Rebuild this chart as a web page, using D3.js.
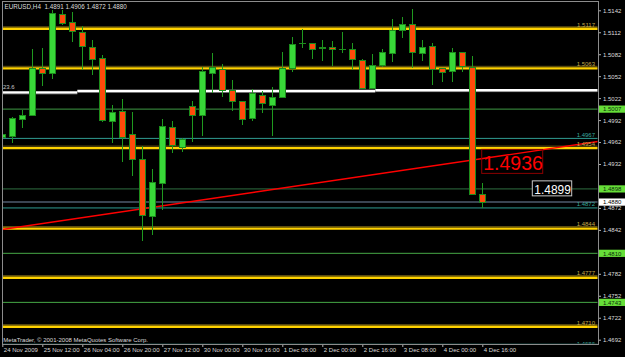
<!DOCTYPE html>
<html>
<head>
<meta charset="utf-8">
<script src="https://cdn.jsdelivr.net/npm/d3@7/dist/d3.min.js"></script>
<style>
  body { margin: 0; background: #000; }
  svg { display: block; font-family: "Liberation Sans", Arial, sans-serif; }
</style>
</head>
<body>
<div id="chart"></div>
<script>
// EURUSD H4 bars, 24 Nov 2009 20:00 .. 4 Dec 16:00
const opens  = [1.4968, 1.4969, 1.4993, 1.4998, 1.5063, 1.5056, 1.5136, 1.5126, 1.5111, 1.5091,
                1.5076, 1.4990, 1.5004, 1.4973, 1.4938, 1.4860, 1.4906, 1.4982, 1.4955, 1.5011,
                1.4998, 1.5056, 1.5061, 1.5033, 1.5017, 1.4994, 1.5026, 1.5012, 1.5023, 1.5063,
                1.5096, 1.5097, 1.5090, 1.5091, 1.5088, 1.5089, 1.5074, 1.5035, 1.5066, 1.5083,
                1.5114, 1.5123, 1.5083, 1.5092, 1.5063, 1.5058, 1.5085, 1.5064, 1.4891];
const highs  = [1.4975, 1.4996, 1.5006, 1.5089, 1.5090, 1.5142, 1.5142, 1.5139, 1.5121, 1.5101,
                1.5081, 1.5013, 1.5021, 1.5003, 1.4956, 1.4925, 1.4994, 1.4991, 1.4967, 1.5018,
                1.5065, 1.5084, 1.5068, 1.5047, 1.5018, 1.5034, 1.5032, 1.5037, 1.5085, 1.5105,
                1.5117, 1.5098, 1.5102, 1.5100, 1.5112, 1.5097, 1.5075, 1.5082, 1.5089, 1.5130,
                1.5133, 1.5144, 1.5101, 1.5098, 1.5063, 1.5091, 1.5085, 1.5079, 1.4906];
const lows   = [1.4960, 1.4961, 1.4981, 1.4997, 1.5039, 1.5048, 1.5122, 1.5099, 1.5060, 1.5054,
                1.4990, 1.4961, 1.4935, 1.4915, 1.4827, 1.4835, 1.4869, 1.4947, 1.4949, 1.4962,
                1.4970, 1.5029, 1.5024, 1.5004, 1.4985, 1.4991, 1.5002, 1.4970, 1.5023, 1.5058,
                1.5090, 1.5075, 1.5073, 1.5066, 1.5084, 1.5061, 1.5034, 1.5034, 1.5065, 1.5072,
                1.5104, 1.5063, 1.5073, 1.5040, 1.5044, 1.5044, 1.5058, 1.4889, 1.4872];
const closes = [1.4972, 1.4994, 1.4998, 1.5063, 1.5055, 1.5137, 1.5124, 1.5113, 1.5093, 1.5075,
                1.4991, 1.5003, 1.4968, 1.4938, 1.4861, 1.4907, 1.4983, 1.4957, 1.4966, 1.4998,
                1.5059, 1.5064, 1.5033, 1.5017, 1.4993, 1.5029, 1.5014, 1.5023, 1.5062, 1.5095,
                1.5097, 1.5089, 1.5091, 1.5088, 1.5089, 1.5075, 1.5035, 1.5067, 1.5085, 1.5114,
                1.5122, 1.5085, 1.5091, 1.5061, 1.5057, 1.5085, 1.5065, 1.4890, 1.4880];

const timeLabels = ["24 Nov 2009", "25 Nov 12:00", "26 Nov 04:00", "26 Nov 20:00", "27 Nov 12:00",
                    "30 Nov 00:00", "30 Nov 16:00", "1 Dec 08:00", "2 Dec 00:00", "2 Dec 16:00",
                    "3 Dec 08:00", "4 Dec 00:00", "4 Dec 16:00"];
const timeTickBars = [0, 4, 8, 12, 16, 20, 24, 28, 32, 36, 40, 44, 48];

const priceTicks = [1.5142, 1.5112, 1.5082, 1.5052, 1.5022, 1.4992, 1.4962, 1.4932, 1.4902,
                    1.4872, 1.4842, 1.4812, 1.4782, 1.4752, 1.4722, 1.4692];

// drawn objects
const yellowLevels = [1.5117, 1.5063, 1.4954, 1.4844, 1.4777, 1.4710];
const tealLevels   = [1.4967, 1.4872, 1.4686];
const greenLevels  = [1.5007, 1.4898, 1.4810, 1.4743];
const bidPrice     = 1.4880;
const fibBars      = [[-1, 7.5], [7.5, 37.3], [37.3, 60]];
const fibPrices    = [1.5030, 1.5032, 1.5033];
const trendBars    = [-0.03, 59.57];
const trendPrices  = [1.48425, 1.49627];

const W = 625, H = 357;
const plotL = 2, plotR = 598, plotT = 1, plotB = 344;

const svg = d3.select("#chart").append("svg")
  .attr("width", W)
  .attr("height", H)
  .style("background", "#000");

const x = d3.scaleLinear().domain([0, 48]).range([2.3, 482.3]);
const y = d3.scaleLinear().domain([1.5142, 1.4692]).range([10.3, 339.7]);

svg.append("defs").append("clipPath").attr("id", "plotclip")
  .append("rect")
  .attr("x", plotL + 0.5).attr("y", plotT + 0.5)
  .attr("width", plotR - plotL - 1).attr("height", plotB - plotT - 1);

const plot = svg.append("g").attr("clip-path", "url(#plotclip)");

function hline(g, price, color, w, dy) {
  g.append("line")
    .attr("x1", plotL).attr("x2", plotR)
    .attr("y1", y(price) + (dy || 0)).attr("y2", y(price) + (dy || 0))
    .attr("stroke", color).attr("stroke-width", w);
}

// thin levels
greenLevels.forEach(function(p, i) {
  hline(plot, p, i == 1 ? "#2f6e40" : (i == 0 ? "#3f9a45" : "#46a846"), 1);
});
tealLevels.forEach(function(p) { hline(plot, p, "#2f9c92", 1); });
hline(plot, bidPrice, "#3a4452", 2);

// yellow levels
yellowLevels.forEach(function(p) {
  hline(plot, p, "#6e5c12", 1, -1.8);
  hline(plot, p, "#ffd200", 2.4, 0.2);
});

// fibo 23.6 line
fibBars.forEach(function(b, i) {
  plot.append("line")
    .attr("x1", x(b[0])).attr("x2", x(b[1]))
    .attr("y1", y(fibPrices[i]) + 1.5).attr("y2", y(fibPrices[i]) + 1.5)
    .attr("stroke", "#8a8a8a").attr("stroke-width", 1);
  plot.append("line")
    .attr("x1", x(b[0])).attr("x2", x(b[1]))
    .attr("y1", y(fibPrices[i])).attr("y2", y(fibPrices[i]))
    .attr("stroke", "#ffffff").attr("stroke-width", 2.2);
});

// trend line
plot.append("line")
  .attr("x1", x(trendBars[0])).attr("y1", y(trendPrices[0]))
  .attr("x2", x(trendBars[1])).attr("y2", y(trendPrices[1]))
  .attr("stroke", "#ff0000").attr("stroke-width", 1.4);

// candles
const bars = opens.map(function(o, i) {
  return { i: i, o: o, h: highs[i], l: lows[i], c: closes[i] };
});

const candle = plot.append("g").attr("shape-rendering", "crispEdges")
  .selectAll("g").data(bars).enter().append("g");

candle.append("line")
  .attr("x1", function(d) { return Math.round(x(d.i)) + 0.5; })
  .attr("x2", function(d) { return Math.round(x(d.i)) + 0.5; })
  .attr("y1", function(d) { return y(d.h); })
  .attr("y2", function(d) { return y(d.l); })
  .attr("stroke", "#1f9a1f").attr("stroke-width", 1);

candle.append("rect")
  .attr("x", function(d) { return Math.round(x(d.i)) - 2.5; })
  .attr("width", 6)
  .attr("y", function(d) { return y(Math.max(d.o, d.c)); })
  .attr("height", function(d) { return Math.max(0.6, Math.abs(y(d.o) - y(d.c))); })
  .attr("fill", function(d) { return d.c >= d.o ? "#38d838" : "#ff4a0a"; })
  .attr("stroke", "#1c8c1c").attr("stroke-width", 1);

// text labels on levels
const small = "6px";
yellowLevels.forEach(function(p) {
  svg.append("text").attr("x", 595).attr("y", y(p) - 2)
    .attr("text-anchor", "end").attr("font-size", small)
    .attr("fill", "#c2a84a").text(p.toFixed(4));
});
tealLevels.slice(0, 2).forEach(function(p) {
  svg.append("text").attr("x", 595).attr("y", y(p) - 1.5)
    .attr("text-anchor", "end").attr("font-size", small)
    .attr("fill", "#3aa89c").text(p.toFixed(4));
});
plot.append("text").attr("x", 595).attr("y", y(tealLevels[2]) + 2)
  .attr("text-anchor", "end").attr("font-size", small)
  .attr("fill", "#3aa89c").text(tealLevels[2].toFixed(4));

svg.append("text").attr("x", 3).attr("y", y(fibPrices[0]) - 3.5)
  .attr("font-size", small).attr("fill", "#c8c8c8").text("23.6");

// big text objects
const t1x = x(47.94), t1y = y(1.4952);
svg.append("rect").attr("x", t1x).attr("y", t1y).attr("width", 61).attr("height", 24)
  .attr("fill", "none").attr("stroke", "#8b0000").attr("stroke-width", 1);
svg.append("text").attr("x", t1x + 1.5).attr("y", t1y + 20.3)
  .attr("font-size", "19.5px").attr("fill", "#ff0000").text("1.4936");

const t2x = x(53.0), t2y = y(1.4909);
svg.append("rect").attr("x", t2x).attr("y", t2y).attr("width", 39.4).attr("height", 15)
  .attr("fill", "#000").attr("stroke", "#c8c8c8").attr("stroke-width", 1);
svg.append("text").attr("x", t2x + 2).attr("y", t2y + 12.8)
  .attr("font-size", "13.5px").attr("fill", "#ffffff")
  .attr("textLength", 36.5).attr("lengthAdjust", "spacingAndGlyphs").text("1.4899");

// right price axis
const boxPrices = greenLevels.concat([bidPrice]);
const yAxis = svg.append("g")
  .attr("transform", "translate(" + plotR + ",0)")
  .call(d3.axisRight(y).tickValues(priceTicks).tickSize(3).tickPadding(2)
    .tickFormat(d3.format(".4f")));
yAxis.select(".domain").remove();
yAxis.selectAll("line").attr("stroke", "#b0b0b0");
yAxis.selectAll("text").attr("fill", "#dcdcdc").attr("font-size", small)
  .attr("font-family", "Liberation Sans, Arial, sans-serif")
  // labels sitting under a price box are hidden by it in the terminal
  .style("display", function(d) {
    return boxPrices.some(function(p) { return Math.abs(y(p) - y(d)) < 4; }) ? "none" : null;
  });

// price boxes on the axis
greenLevels.forEach(function(p) {
  svg.append("rect").attr("x", 599).attr("y", y(p) - 3.6).attr("width", 26).attr("height", 7.2)
    .attr("fill", "#66de38");
  svg.append("text").attr("x", 603).attr("y", y(p) + 2.2).attr("font-size", small)
    .attr("fill", "#0b2a0b").text(p.toFixed(4));
});
svg.append("rect").attr("x", 599).attr("y", y(bidPrice) - 3.6).attr("width", 26).attr("height", 7.2)
  .attr("fill", "#ffffff");
svg.append("text").attr("x", 603).attr("y", y(bidPrice) + 2.2).attr("font-size", small)
  .attr("fill", "#000").text(bidPrice.toFixed(4));

// bottom time axis
const xAxis = svg.append("g")
  .attr("transform", "translate(0," + plotB + ")")
  .call(d3.axisBottom(x).tickValues(timeTickBars).tickSize(3)
    .tickFormat(function(d, i) { return timeLabels[i]; }));
xAxis.select(".domain").remove();
xAxis.selectAll("line").attr("stroke", "#b0b0b0");
xAxis.selectAll("text").attr("fill", "#dcdcdc").attr("font-size", small)
  .attr("font-family", "Liberation Sans, Arial, sans-serif")
  .attr("text-anchor", "start").attr("x", 1).attr("y", 7.5).attr("dy", "0");

// frame
svg.append("rect")
  .attr("x", plotL + 0.5).attr("y", plotT + 0.5)
  .attr("width", plotR - plotL).attr("height", plotB - plotT)
  .attr("fill", "none").attr("stroke", "#8c8c8c").attr("stroke-width", 1);

// header and copyright
svg.append("text").attr("x", 4.5).attr("y", 9.2).attr("font-size", "6.3px")
  .attr("fill", "#dcdcdc").style("white-space", "pre")
  .text("EURUSD,H4  1.4891 1.4906 1.4872 1.4880");
svg.append("text").attr("x", 3.3).attr("y", 342).attr("font-size", small)
  .attr("fill", "#dcdcdc").text("MetaTrader, \u00a9 2001-2008 MetaQuotes Software Corp.");
</script>
</body>
</html>
